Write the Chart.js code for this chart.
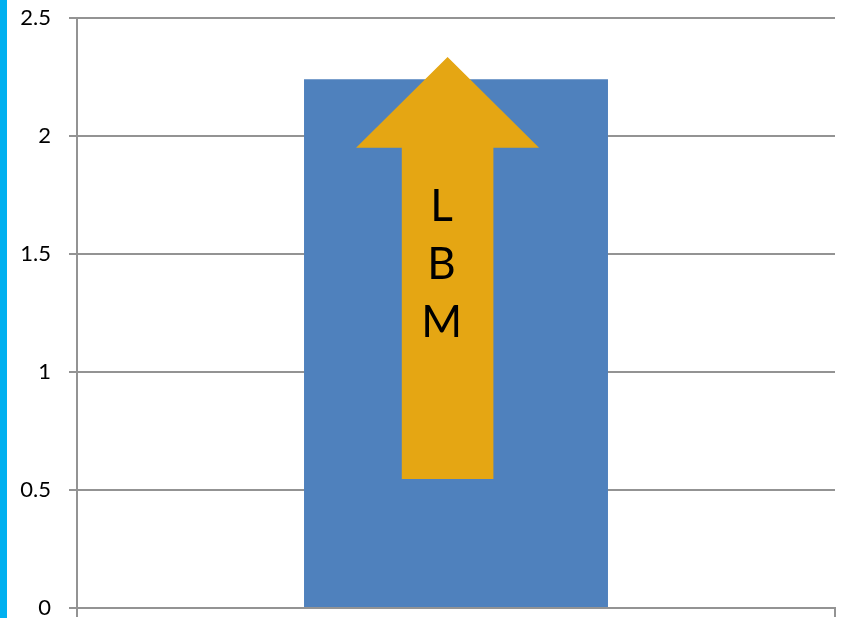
<!DOCTYPE html>
<html>
<head>
<meta charset="utf-8">
<script src="https://cdn.jsdelivr.net/npm/chart.js@4.4.1/dist/chart.umd.min.js"></script>
<style>
  html, body { margin: 0; padding: 0; background: #fff; }
  #wrap { position: relative; width: 841px; height: 618px; }
  #stripe { position: absolute; left: 0; top: 0; width: 7px; height: 618px; background: #00b0f0; }
</style>
</head>
<body>
<div id="wrap">
  <canvas id="c"></canvas>
  <div id="stripe"></div>
</div>
<script>
// data
const categories = [""];
const values = [2.24];
const yTicks = [0, 0.5, 1, 1.5, 2, 2.5];

// arrow drawn over the bar (in axis values)
const arrowBase = 0.547;
const arrowHeadBase = 1.95;
const arrowTip = 2.335;
const arrowLetters = ["L", "B", "M"];

const GRID = "#939393";

// arrow plugin: uses the bar element for x and the y scale for heights
const arrowPlugin = {
  id: "arrow",
  afterDatasetsDraw(chart) {
    const bar = chart.getDatasetMeta(0).data[0];
    const y = chart.scales.y;
    const ctx = chart.ctx;
    const cx = bar.x - bar.width * 0.0277;
    const shaftHalf = bar.width * 0.1507;
    const headHalf = bar.width * 0.301;
    const yb = y.getPixelForValue(arrowBase);
    const yh = y.getPixelForValue(arrowHeadBase);
    const yt = y.getPixelForValue(arrowTip);

    ctx.save();
    ctx.fillStyle = "#e5a613";
    ctx.beginPath();
    ctx.moveTo(cx - shaftHalf, yb);
    ctx.lineTo(cx - shaftHalf, yh);
    ctx.lineTo(cx - headHalf, yh);
    ctx.lineTo(cx, yt);
    ctx.lineTo(cx + headHalf, yh);
    ctx.lineTo(cx + shaftHalf, yh);
    ctx.lineTo(cx + shaftHalf, yb);
    ctx.closePath();
    ctx.fill();

    ctx.fillStyle = "#000";
    ctx.font = "44px Lato";
    ctx.textAlign = "center";
    ctx.textBaseline = "alphabetic";
    arrowLetters.forEach((ch, i) => {
      ctx.fillText(ch, cx - 6, yh + 73.5 + i * 57.7);
    });
    ctx.restore();
  }
};

new Chart(document.getElementById("c"), {
  type: "bar",
  data: {
    labels: categories,
    datasets: [{
      data: values,
      backgroundColor: "#4f81bd",
      borderWidth: 0,
      barPercentage: 0.401,
      categoryPercentage: 1
    }]
  },
  options: {
    responsive: true,
    maintainAspectRatio: false,
    animation: false,
    layout: { padding: { top: 18, right: 6, bottom: 1, left: 19 } },
    plugins: { legend: { display: false }, tooltip: { enabled: false } },
    scales: {
      x: {
        grid: { drawOnChartArea: false, drawTicks: true, tickLength: 9, color: GRID, lineWidth: 2, offset: true },
        border: { color: GRID, width: 2 },
        ticks: { display: false },
        afterFit: axis => {
          axis.height = 9;
          axis.paddingLeft = 0;
          axis.paddingRight = 0;
        }
      },
      y: {
        min: 0,
        max: 2.5,
        afterBuildTicks: axis => { axis.ticks = yTicks.map(v => ({ value: v })); },
        afterFit: axis => {
          axis.width = 58;
          axis.paddingTop = 0;
          axis.paddingBottom = 0;
        },
        grid: { color: GRID, lineWidth: 2, tickLength: 8 },
        border: { color: GRID, width: 2 },
        ticks: {
          color: "#000",
          font: { family: "Lato", size: 22 },
          padding: 18,
          callback: v => String(v)
        }
      }
    }
  },
  plugins: [arrowPlugin]
});
</script>
</body>
</html>
